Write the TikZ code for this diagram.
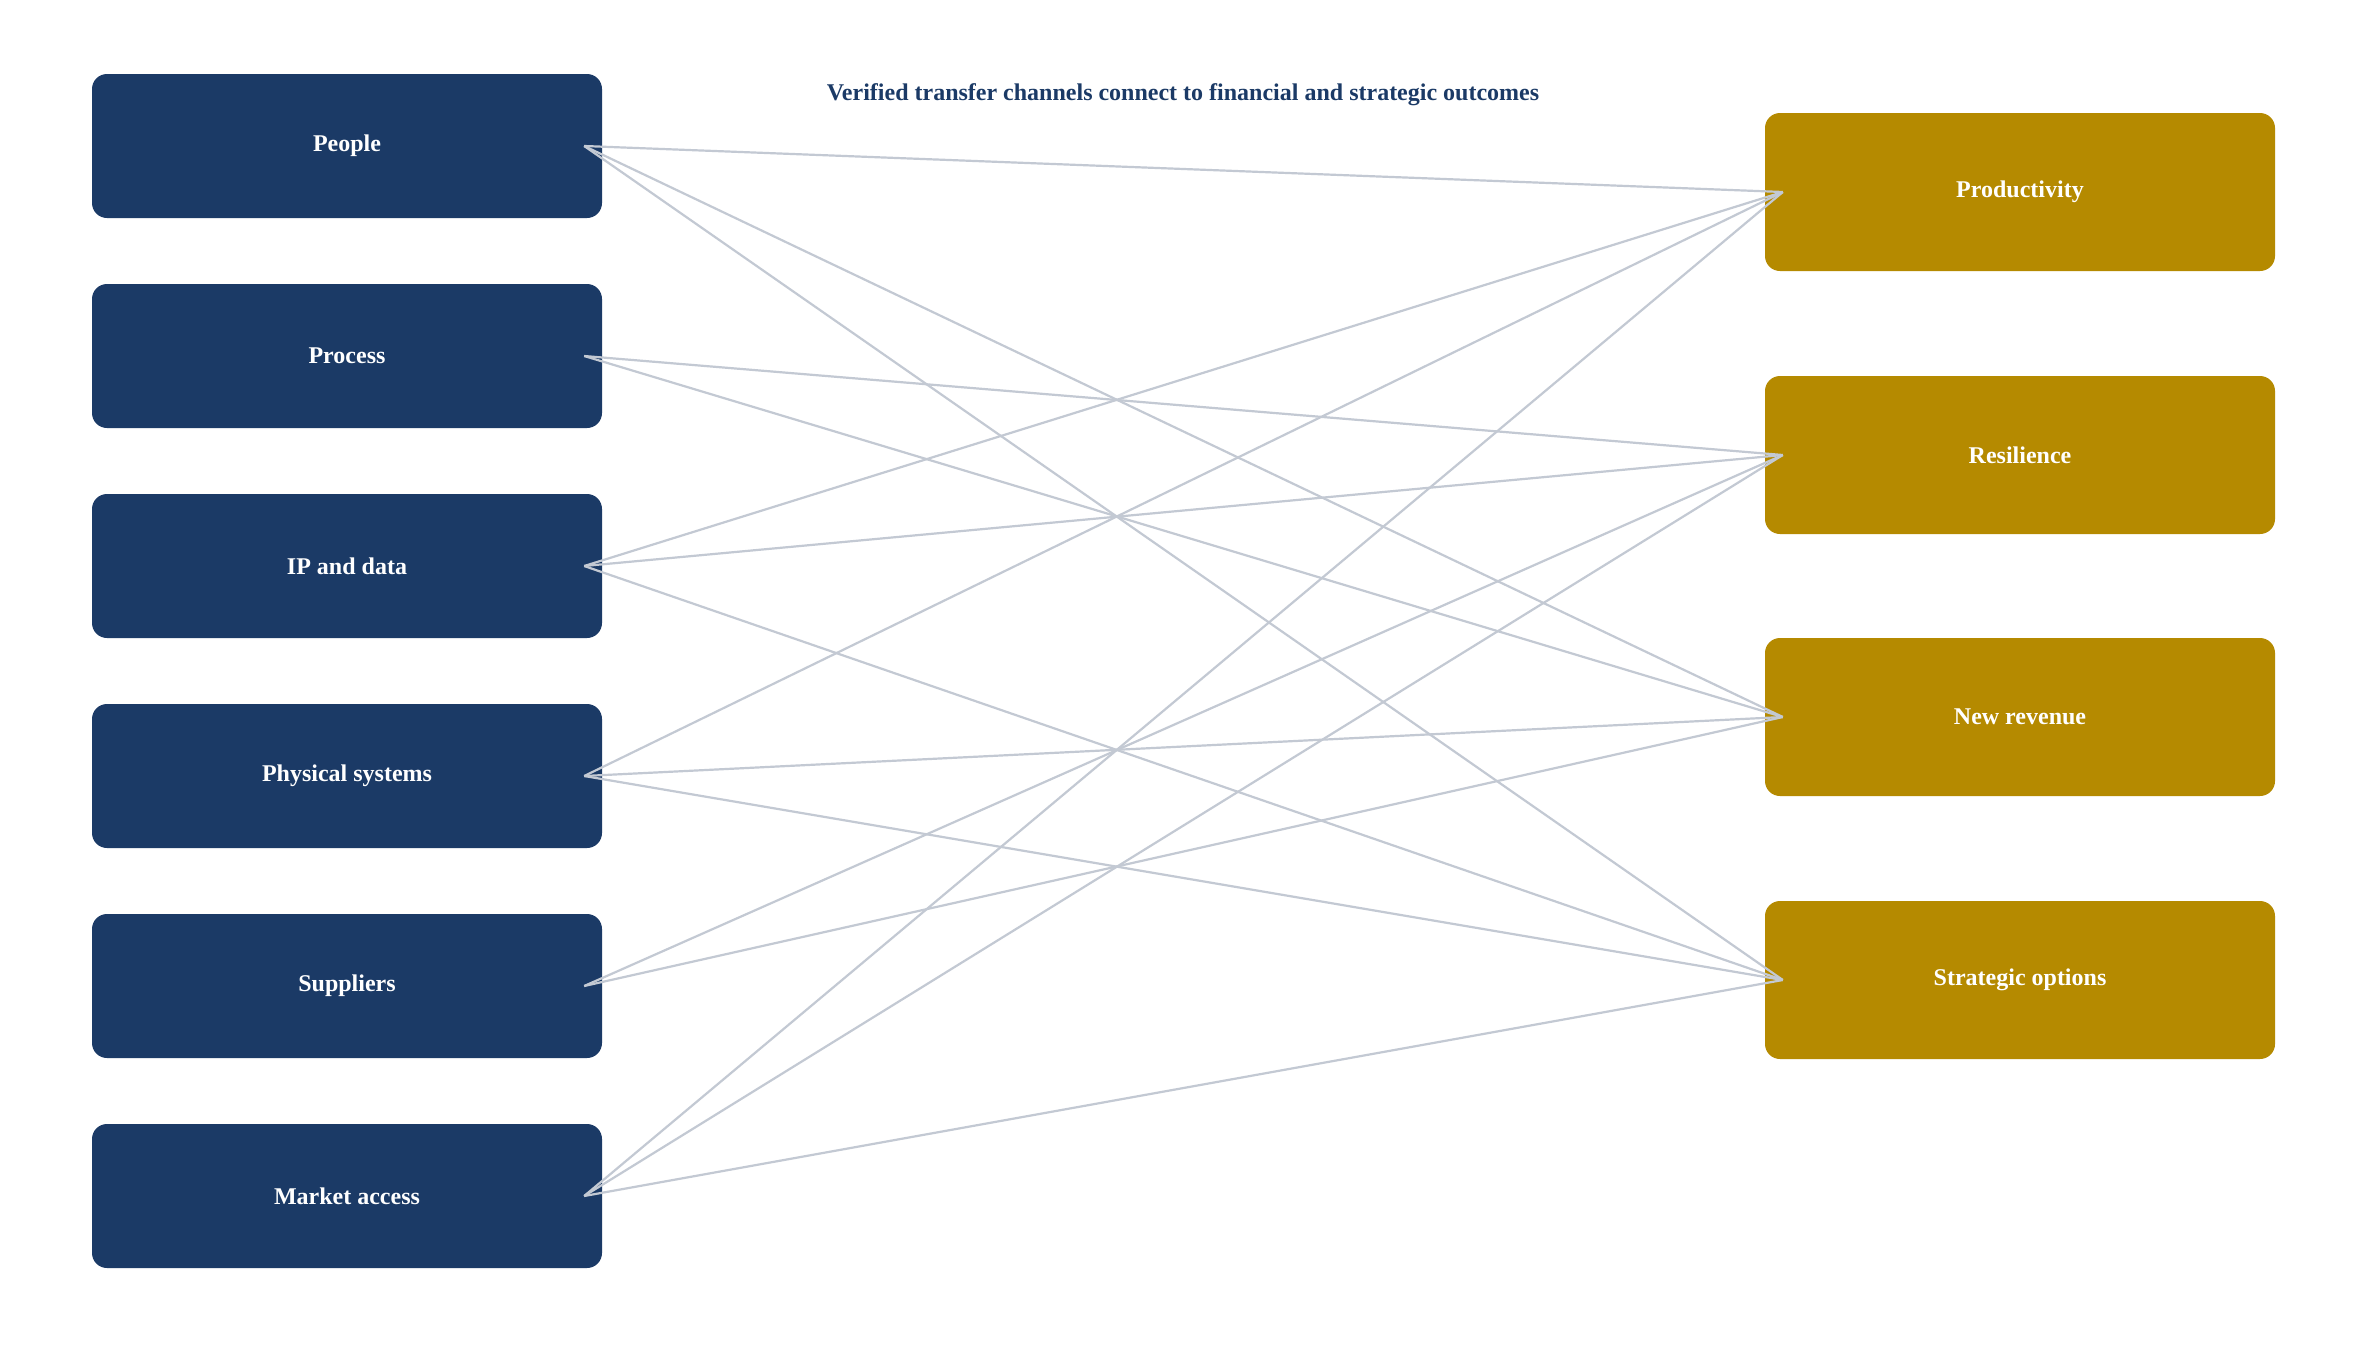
\documentclass[tikz,border=0pt]{standalone}
\usepackage{fontspec}
\setmainfont{Liberation Serif}
\usetikzlibrary{calc}
\definecolor{navy}{HTML}{1B3A66}
\definecolor{gold}{HTML}{B58A00}
\definecolor{edgegrey}{HTML}{C3C9D3}
\tikzset{
  srcbox/.style={fill=navy, rounded corners=15pt, minimum width=510pt, minimum height=144pt,
    text=white, font=\fontsize{24}{28}\selectfont\bfseries, inner sep=0pt},
  dstbox/.style={fill=gold, rounded corners=15pt, minimum width=510pt, minimum height=158pt,
    text=white, font=\fontsize{24}{28}\selectfont\bfseries, inner sep=0pt},
  link/.style={draw=edgegrey, line width=2.2pt},
  titletext/.style={text=navy, font=\fontsize{24}{28}\selectfont\bfseries, inner sep=0pt}
}
\begin{document}
\begin{tikzpicture}[x=1pt,y=-1pt]
\useasboundingbox[fill=white] (0,0) rectangle (2367,1355);
\node[titletext] (title) at (1183,95) {Verified transfer channels connect to financial and strategic outcomes};
% sources
\node[srcbox] (people) at (347,146) {People};
\node[srcbox] (process) at (347,356) {Process};
\node[srcbox] (ip) at (347,566) {IP and data};
\node[srcbox] (phys) at (347,776) {Physical systems};
\node[srcbox] (supp) at (347,986) {Suppliers};
\node[srcbox] (market) at (347,1196) {Market access};
% outcomes
\node[dstbox] (prod) at (2020,192) {Productivity};
\node[dstbox] (resil) at (2020,455) {Resilience};
\node[dstbox] (rev) at (2020,717) {New revenue};
\node[dstbox] (strat) at (2020,980) {Strategic options};
% links
\foreach \s/\t in {people/prod, people/rev, people/strat,
                   process/resil, process/rev,
                   ip/prod, ip/resil, ip/strat,
                   phys/prod, phys/rev, phys/strat,
                   supp/resil, supp/rev,
                   market/prod, market/resil, market/strat}
  \draw[link] ($(\s.east)+(-18,0)$) -- ($(\t.west)+(18,0)$);
\end{tikzpicture}
\end{document}
